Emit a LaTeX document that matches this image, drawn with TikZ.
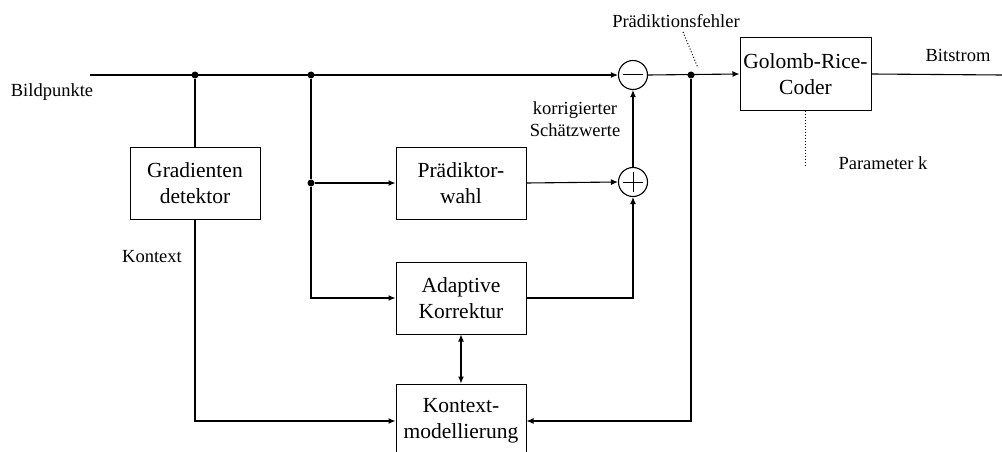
\documentclass[tikz,border=0pt]{standalone}
\usepackage{fontspec}
\setmainfont{Liberation Serif}
\usetikzlibrary{arrows.meta,calc}
\begin{document}
\begin{tikzpicture}[x=1pt,y=-1pt,
  line width=1.1pt,
  blk/.style={draw,line width=1pt,rectangle,minimum width=130pt,minimum height=72pt,inner sep=0pt,align=center,font=\fontsize{21.5}{26}\selectfont},
  lbl/.style={inner sep=0pt,align=center,font=\fontsize{18.5}{22}\selectfont},
  sum/.style={draw,circle,minimum size=29pt,inner sep=0pt},
  arr/.style={-{Latex[length=7pt,width=6pt]}},
  darr/.style={{Latex[length=7pt,width=6pt]}-{Latex[length=7pt,width=6pt]}},
  dot/.style={circle,fill,inner sep=0pt,minimum size=7pt},
  dotl/.style={line width=1pt,dotted}]
\useasboundingbox (0,0) rectangle (1002,452);
\clip (0,0) rectangle (1002,452);
% blocks
\node[blk] (gd) at (195,183) {Gradienten\\detektor};
\node[blk] (pw) at (461,183) {Prädiktor-\\wahl};
\node[blk] (ak) at (461,298) {Adaptive\\Korrektur};
\node[blk,minimum height=74pt] (km) at (461,421) {Kontext-\\modellierung};
\node[blk,minimum width=131pt] (gr) at (805.5,74) {Golomb-Rice-\\Coder};
\node[sum] (mi) at (633,75) {};
\node[sum] (pl) at (633,182) {};
\draw[line width=1pt] ($(mi.center)+(-10,0)$) -- ($(mi.center)+(10,0)$);
\draw[line width=1pt] ($(pl.center)+(-10,0)$) -- ($(pl.center)+(10,0)$);
\draw[line width=1pt] ($(pl.center)+(0,-10)$) -- ($(pl.center)+(0,10)$);
% coordinates and dots
\coordinate (in) at (90,75);
\coordinate (out) at (1002,75);
\node[dot] (d1) at (195,75) {};
\node[dot] (d2) at (311,75) {};
\node[dot] (d3) at (311,183) {};
\node[dot] (d4) at (691,75) {};
% connectors
\draw[arr] (in) -- (mi.west);
\draw (d1) -- (gd.north);
\draw[arr] (gd.south) |- (km.west);
\draw (d2) -- (d3);
\draw[arr] (d3) -- (pw.west);
\draw[arr] (d3) |- (ak.west);
\draw[arr] (pw.east) -- (pl.west);
\draw[arr] (ak.east) -| (pl.south);
\draw[arr] (pl.north) -- (mi.south);
\draw[arr] (mi.east) -- (gr.west);
\draw[arr] (d4) |- (km.east);
\draw[darr] (ak.south) -- (km.north);
\draw (gr.east) -- (out);
% labels
\node[lbl] (l1) at (52,92) {Bildpunkte};
\node[lbl] (l2) at (152,257) {Kontext};
\node[lbl] (l3) at (575,119) {korrigierter\\Schätzwerte};
\node[lbl] (l4) at (676,21) {Prädiktionsfehler};
\node[lbl] (l5) at (958,55) {Bitstrom};
\node[lbl] (l6) at (883,163) {Parameter k};
\coordinate (p1) at (683,32);
\coordinate (p2) at (698,68);
\coordinate (p3) at (805,167);
\draw[dotl] (p1) -- (p2);
\draw[dotl] (gr.south -| p3) -- (p3);
\end{tikzpicture}
\end{document}
